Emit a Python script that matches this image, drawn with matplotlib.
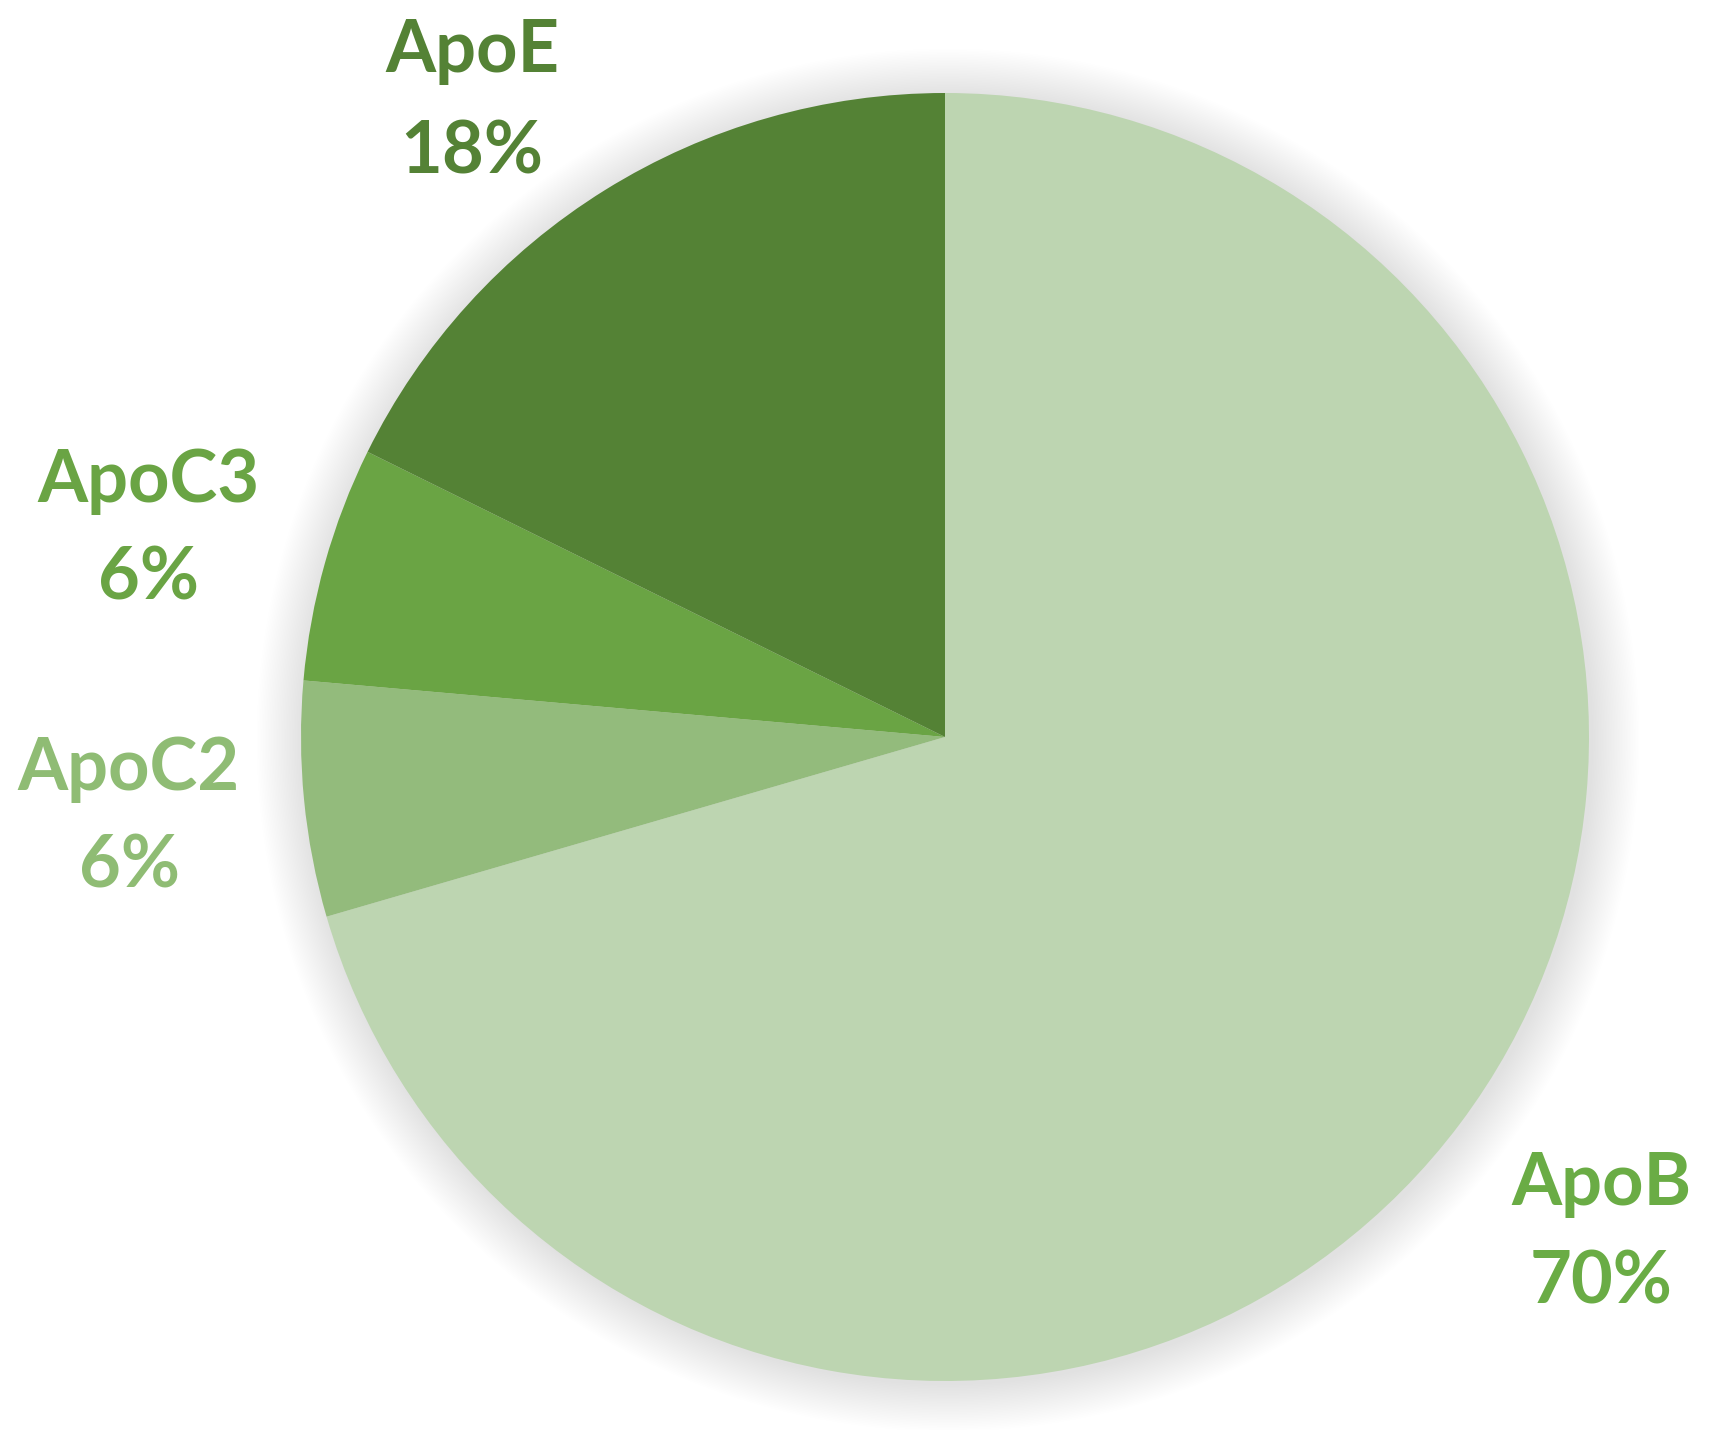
import matplotlib
matplotlib.use("Agg")
import matplotlib.pyplot as plt
from matplotlib.patches import Circle

# Data
categories = ["ApoB", "ApoC2", "ApoC3", "ApoE"]
values = [70.5, 5.9, 5.9, 17.7]
pct_labels = ["70%", "6%", "6%", "18%"]

slice_colors = ["#BDD5B1", "#93BB7C", "#6AA444", "#548235"]
label_colors = ["#6AAC45", "#8FBC74", "#6AA444", "#548235"]
# label positions in pixel coords (x center, baseline name, baseline pct)
label_pos = {
    "ApoB": (1601, 1205, 1303),
    "ApoC2": (129, 790, 888),
    "ApoC3": (148, 502, 600),
    "ApoE": (472, 72, 173),
}

W, H = 1710, 1430
fig = plt.figure(figsize=(W / 100, H / 100), dpi=100)
ax = fig.add_axes([0, 0, 1, 1])

cx, cy, r = 945, H - 737, 644

# soft shadow
for i in range(30):
    ax.add_patch(Circle((cx + 3, cy - 3), r + 1 + i * 1.6, facecolor="black",
                        edgecolor="none", alpha=0.0045, zorder=0))

ax.pie(values, colors=slice_colors, startangle=90, counterclock=False,
       center=(cx, cy), radius=r, frame=True,
       wedgeprops=dict(linewidth=0, zorder=2))
ax.set_xlim(0, W)
ax.set_ylim(0, H)
ax.set_aspect("equal")
ax.axis("off")

for cat, pct, col in zip(categories, pct_labels, label_colors):
    x, b1, b2 = label_pos[cat]
    ax.text(x, H - b1, cat, ha="center", va="baseline", fontsize=52,
            fontweight="bold", family="Lato", color=col, zorder=5)
    ax.text(x, H - b2, pct, ha="center", va="baseline", fontsize=52,
            fontweight="bold", family="Lato", color=col, zorder=5)

fig.savefig("out.png", dpi=100, facecolor="white")
